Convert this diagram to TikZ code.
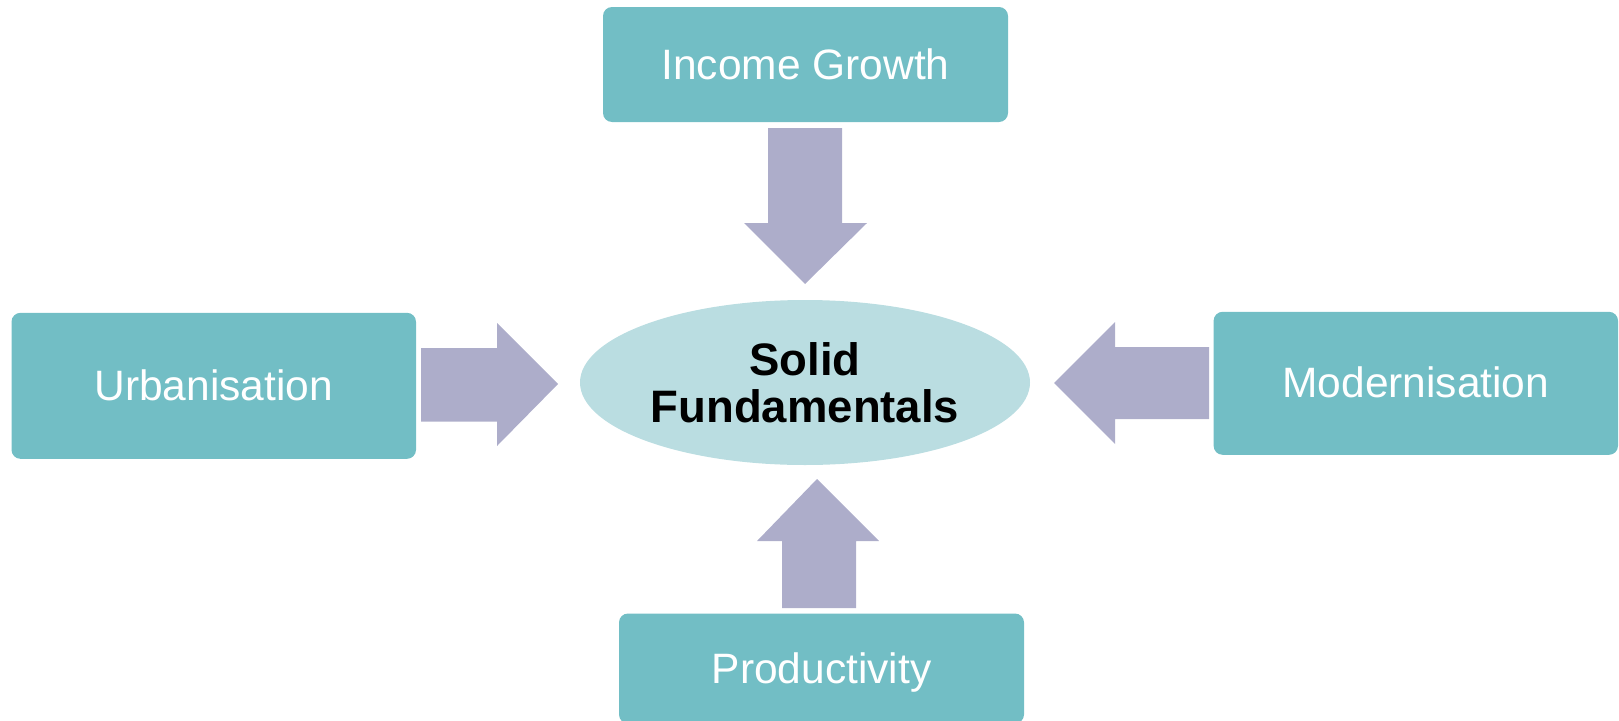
\documentclass[tikz,border=0pt]{standalone}
\usepackage{fontspec}
\setmainfont{Liberation Sans}
\usetikzlibrary{shapes.geometric}
\definecolor{boxteal}{RGB}{114,190,197}
\definecolor{arrowlav}{RGB}{173,173,202}
\definecolor{ellfill}{RGB}{186,221,225}
\begin{document}
\begin{tikzpicture}[x=1pt,y=-1pt,
  factor/.style={fill=boxteal, rounded corners=9pt, text=white,
    font=\fontsize{42.5}{48}\selectfont, text height=29pt, text depth=0pt, inner sep=0pt},
  blockarrow/.style={fill=arrowlav},
  core/.style={ellipse, fill=ellfill, inner sep=0pt, minimum width=450pt,
    minimum height=165pt, align=center, font=\fontsize{45.5}{47}\selectfont\bfseries}]
\useasboundingbox (0,0) rectangle (1619,720);
\begin{scope}
\clip (0,0) rectangle (1619,720);
\node[factor, minimum width=405pt, minimum height=115pt] (inc) at (805.5,64.5) {Income Growth};
\node[factor, minimum width=404.5pt, minimum height=146pt] (urb) at (213.75,385.8) {Urbanisation};
\node[factor, minimum width=404.4pt, minimum height=143pt] (mod) at (1415.8,383.3) {Modernisation};
\node[factor, minimum width=405pt, minimum height=110pt] (prod) at (821.5,668.5) {Productivity};
\node[core] (sf) at (805,382.5) {Solid\\Fundamentals};
% block arrows
\fill[blockarrow] (768,128) -- (842,128) -- (842,223) -- (867,223) -- (805,284) -- (744,223) -- (768,223) -- cycle;
\fill[blockarrow] (782,608) -- (856,608) -- (856,541) -- (879,541) -- (817,479) -- (757,541) -- (782,541) -- cycle;
\fill[blockarrow] (421,348) -- (497,348) -- (497,323) -- (558,384) -- (497,446) -- (497,421.5) -- (421,421.5) -- cycle;
\fill[blockarrow] (1209,347) -- (1115,347) -- (1115,322) -- (1054,383) -- (1115,444) -- (1115,419) -- (1209,419) -- cycle;
\end{scope}
\end{tikzpicture}
\end{document}
